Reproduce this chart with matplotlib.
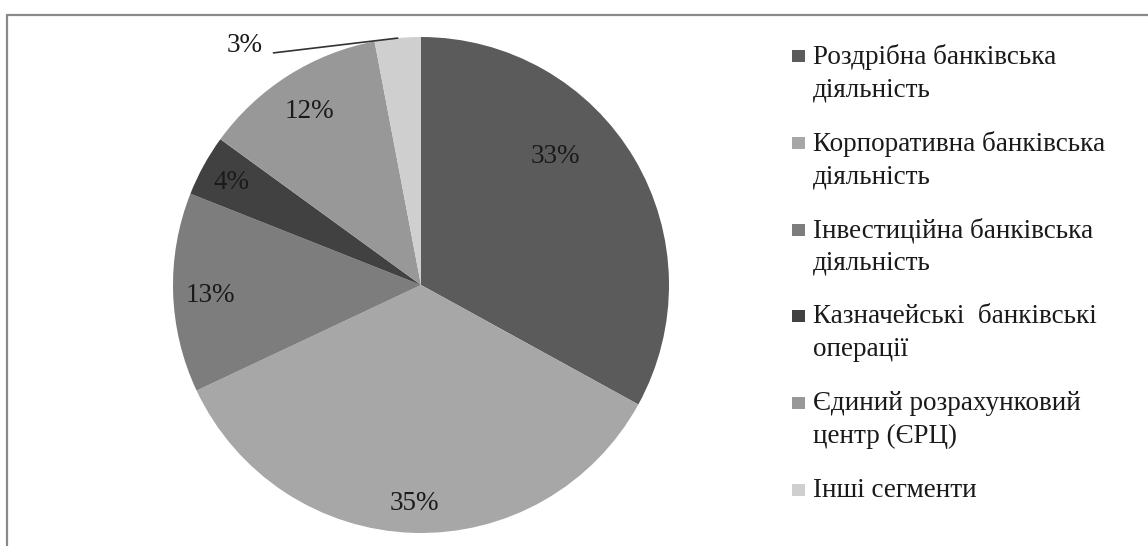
## Pie chart: bank segments share
import numpy as np
import matplotlib.pyplot as plt
from matplotlib.patches import Rectangle

## Data
segments = ["Роздрібна банківська\nдіяльність",
            "Корпоративна банківська\nдіяльність",
            "Інвестиційна банківська\nдіяльність",
            "Казначейські  банківські\nоперації",
            "Єдиний розрахунковий\nцентр (ЄРЦ)",
            "Інші сегменти"]
shares = [33, 35, 13, 4, 12, 3]
colors = ["#5b5b5b", "#a7a7a7", "#7d7d7d", "#414141", "#989898", "#cfcfcf"]

# label placement: (radius as fraction of pie radius, angle shift in degrees)
label_pos = [(0.75, 13.0), (0.88, 0.0), (0.85, 1.0), (0.87, 0.5), (0.83, 0.3), (1.2, 31.0)]

plt.rcParams['font.family'] = ['Liberation Serif', 'DejaVu Serif']

W, H = 1148, 546
fig = plt.figure(figsize=(W / 100, H / 100), dpi=100)
fig.patch.set_facecolor("white")

# frame of the chart area (cut by the image edges)
fig.add_artist(Rectangle((7 / W, -0.1), 1.2, (H - 15) / H + 0.1,
                         transform=fig.transFigure, fill=False,
                         edgecolor="#8a8a8a", linewidth=1.6))

## Pie
cx, cy, R = 421, H - 285, 248
ax = fig.add_axes([(cx - R) / W, (cy - R) / H, 2 * R / W, 2 * R / H])
wedges, _ = ax.pie(shares, colors=colors, startangle=90, counterclock=False,
                   radius=1.0, wedgeprops=dict(linewidth=0))
ax.set_xlim(-1, 1)
ax.set_ylim(-1, 1)
ax.set_aspect("equal")
for w in wedges:
    w.set_clip_on(False)

for w, val, (r, shift) in zip(wedges, shares, label_pos):
    mid = np.deg2rad((w.theta1 + w.theta2) / 2 + shift)
    x, y = r * np.cos(mid), r * np.sin(mid)
    txt = f"{val}%"
    if r > 1.0:
        # outside label with a leader line to the wedge
        mid0 = np.deg2rad((w.theta1 + w.theta2) / 2)
        ax.annotate(txt, xy=(np.cos(mid0), np.sin(mid0)), xytext=(x, y),
                    ha="center", va="center", fontsize=19.5, color="#1a1a1a",
                    arrowprops=dict(arrowstyle="-", color="#333333", lw=1.2,
                                    relpos=(1.0, 0.15), shrinkA=6, shrinkB=0),
                    annotation_clip=False)
    else:
        ax.text(x, y, txt, ha="center", va="center", fontsize=19.5, color="#1a1a1a")

## Legend (drawn by hand so the marker sits at the first text line)
base0, step = 65, 86.8
for i, (lab, col) in enumerate(zip(segments, colors)):
    base = base0 + i * step
    fig.add_artist(Rectangle((792 / W, (H - base + 3) / H), 13 / W, 12 / H,
                             transform=fig.transFigure, facecolor=col,
                             edgecolor="none"))
    fig.text(813 / W, (H - base + 21) / H, lab, ha="left", va="top",
             fontsize=19.5, color="#1a1a1a", linespacing=1.38)

fig.savefig("out.png", dpi=100)
